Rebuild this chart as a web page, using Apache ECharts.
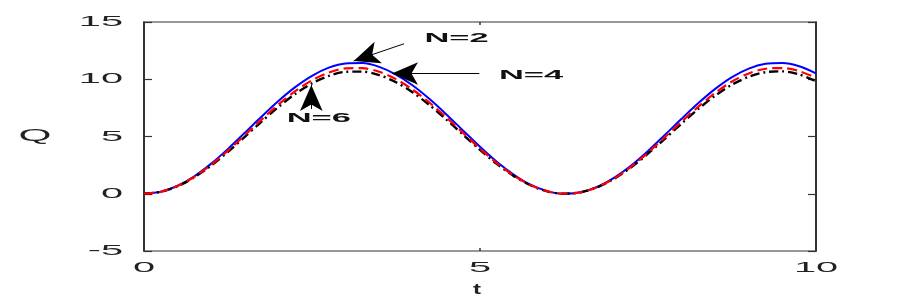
<!DOCTYPE html>
<html>
<head>
<meta charset="utf-8">
<script src="https://cdn.jsdelivr.net/npm/echarts@6/dist/echarts.min.js"></script>
<style>html,body{margin:0;padding:0;background:#fff}#c{width:900px;height:300px}</style>
</head>
<body>
<div id="c"></div>
<script>
// t values
const tValues = [0,0.25,0.5,0.75,1,1.25,1.5,1.75,2,2.25,2.5,2.75,3,3.25,3.5,3.75,4,4.25,4.5,4.75,5,5.25,5.5,5.75,6,6.25,6.5,6.75,7,7.25,7.5,7.75,8,8.25,8.5,8.75,9,9.25,9.5,9.75,10];
// N=2 (blue, solid)
const qN2 = [0,0.18,0.70,1.53,2.63,3.92,5.32,6.74,8.10,9.31,10.30,11.01,11.38,11.41,11.08,10.41,9.46,8.27,6.93,5.51,4.10,2.79,1.67,0.79,0.23,0.00,0.13,0.61,1.41,2.47,3.74,5.13,6.55,7.92,9.16,10.19,10.93,11.35,11.42,11.14,10.52];
// N=4 (red, dashed)
const qN4 = [0,0.17,0.67,1.48,2.53,3.77,5.11,6.48,7.79,8.96,9.91,10.58,10.95,10.97,10.65,10.01,9.09,7.95,6.66,5.30,3.94,2.68,1.60,0.76,0.22,0.00,0.13,0.59,1.35,2.37,3.59,4.93,6.30,7.61,8.81,9.80,10.51,10.92,10.98,10.71,10.12];
// N=6 (black, dash-dot)
const qN6 = [0,0.17,0.65,1.44,2.46,3.66,4.97,6.30,7.58,8.71,9.64,10.29,10.65,10.67,10.36,9.74,8.85,7.74,6.48,5.15,3.83,2.61,1.56,0.74,0.21,0.00,0.13,0.57,1.32,2.31,3.50,4.80,6.13,7.41,8.57,9.53,10.22,10.62,10.69,10.42,9.84];

const xTickLabels = ['0','5','10'];
const yTickLabels = ['-5','0','5','10','15'];
const xTitle = 't';
const yTitle = 'Q';

// annotations: label, arrow tail (x,y), arrow tip (x,y), label position (x,y)
const annLabels = ['N=2','N=4','N=6'];
const annTail = [[3.87,13.1],[4.99,10.5],[2.49,7.4]];
const annTip  = [[3.12,11.6],[3.69,10.5],[2.49,9.5]];
const annText = [[4.65,13.55],[5.76,10.3],[2.6,6.6]];

const pairs = a => tValues.map((t,i)=>[t,a[i]]);

const chart = echarts.init(document.getElementById('c'), null, {renderer:'canvas'});
const SX = 2.65;

const axisBase = {
  type:'value', splitLine:{show:false}, axisLabel:{show:false}
};

chart.setOption({
  animation:false,
  backgroundColor:'#fff',
  grid:{left:144,right:84,top:22,bottom:49,containLabel:false},
  xAxis:[
    Object.assign({}, axisBase, {position:'bottom', min:0, max:10, interval:5,
      axisLine:{show:true,onZero:false,lineStyle:{color:'#777',width:1.5}},
      axisTick:{show:true,inside:true,length:3,lineStyle:{color:'#333',width:1.5}}}),
    Object.assign({}, axisBase, {position:'top', min:0, max:10, interval:5,
      axisLine:{show:true,onZero:false,lineStyle:{color:'#777',width:1.5}},
      axisTick:{show:true,inside:true,length:3,lineStyle:{color:'#333',width:1.5}}})
  ],
  yAxis:[
    Object.assign({}, axisBase, {position:'left', min:-5, max:15, interval:5,
      axisLine:{show:true,onZero:false,lineStyle:{color:'#333',width:2}},
      axisTick:{show:true,inside:true,length:8,lineStyle:{color:'#333',width:1.2}}}),
    Object.assign({}, axisBase, {position:'right', min:-5, max:15, interval:5,
      axisLine:{show:true,onZero:false,lineStyle:{color:'#333',width:2}},
      axisTick:{show:true,inside:true,length:8,lineStyle:{color:'#333',width:1.2}}})
  ],
  series:[
    {name:'N=6',type:'line',data:pairs(qN6),symbol:'none',smooth:0.3,
      lineStyle:{color:'#000',width:2.4,type:[9,4,2,4]},z:2},
    {name:'N=4',type:'line',data:pairs(qN4),symbol:'none',smooth:0.3,
      lineStyle:{color:'#f00',width:2.2,type:[10,5]},z:3},
    {name:'N=2',type:'line',data:pairs(qN2),symbol:'none',smooth:0.3,
      lineStyle:{color:'#00f',width:2},z:1,
      markLine:{silent:true,animation:false,symbol:['none','arrow'],symbolSize:[17,26],
        label:{show:false},
        lineStyle:{color:'#000',width:1,type:'solid'},
        data: annLabels.map((l,i)=>[{coord:annTail[i]},{coord:annTip[i]}])
      }
    }
  ]
});

function textEl(txt, px, py, opts){
  return {type:'text', x:px, y:py, scaleX:opts.sx||SX, z:100,
    style:{text:txt, fill:opts.color||'#222', font:(opts.weight||'normal')+' '+(opts.size||15)+'px "Liberation Sans", Arial, sans-serif',
      textAlign:opts.align||'center', textVerticalAlign:'middle'}};
}

const g = [];
const yVals = [-5,0,5,10,15];
yVals.forEach((v,i)=>{
  const p = chart.convertToPixel({gridIndex:0},[0,v]);
  g.push(textEl(yTickLabels[i], p[0]-21, p[1], {align:'right'}));
});
const xVals = [0,5,10];
xVals.forEach((v,i)=>{
  const p = chart.convertToPixel({gridIndex:0},[v,-5]);
  g.push(textEl(xTickLabels[i], p[0], p[1]+17, {}));
});
{
  const p = chart.convertToPixel({gridIndex:0},[5,5]);
  g.push(textEl(yTitle, 35, p[1], {size:16}));
  const q = chart.convertToPixel({gridIndex:0},[5,-5]);
  g.push(textEl(xTitle, q[0]-3, q[1]+39, {size:15, weight:'bold', sx:1.6}));
}
annLabels.forEach((l,i)=>{
  const p = chart.convertToPixel({gridIndex:0}, annText[i]);
  g.push(textEl(l, p[0], p[1], {size:13, weight:'bold', color:'#111'}));
});
chart.setOption({graphic:g});
</script>
</body>
</html>
